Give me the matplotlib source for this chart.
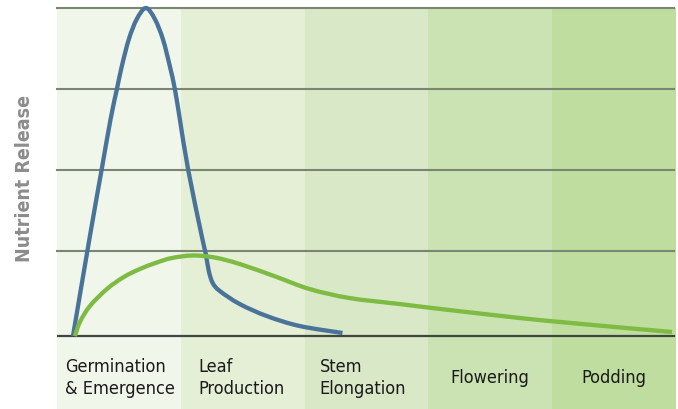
import numpy as np
import matplotlib
matplotlib.use("Agg")
import matplotlib.pyplot as plt
from matplotlib.path import Path
from matplotlib.patches import PathPatch

## Data (x in growth-stage units, y in relative release units)
stages = ["Germination\n& Emergence", "Leaf\nProduction", "Stem\nElongation", "Flowering", "Podding"]
band_colors = ["#f1f6ea", "#e4efd6", "#d9e8c6", "#cbe3b3", "#bfdd9f"]

blue_x = [0.129, 0.266, 0.360, 0.433, 0.484, 0.524, 0.581, 0.645, 0.718, 0.790, 0.855, 0.911,
          0.952, 0.992, 1.060, 1.169, 1.202, 1.226, 1.258, 1.315, 1.476, 1.694, 1.960, 2.306]
blue_y = [0.0, 1.220, 2.024, 2.646, 3.012, 3.293, 3.622, 3.866, 4.0, 3.866, 3.622, 3.293,
          3.012, 2.646, 2.024, 1.220, 1.0, 0.793, 0.646, 0.549, 0.390, 0.244, 0.122, 0.037]

green_x = [0.145, 0.185, 0.266, 0.403, 0.540, 0.669, 0.806, 0.927, 1.097, 1.274, 1.476, 1.774,
           2.040, 2.363, 2.766, 3.306, 3.976, 4.968]
green_y = [0.0, 0.171, 0.366, 0.573, 0.720, 0.817, 0.896, 0.951, 0.982, 0.957, 0.878, 0.720,
           0.573, 0.463, 0.390, 0.293, 0.183, 0.049]

grid_levels = [1.037, 2.024, 3.012, 4.0]


def smooth_path(xs, ys, ax):
    # Catmull-Rom through the points, drawn as cubic Bezier segments in display space
    pts = ax.transData.transform(np.column_stack([xs, ys]))
    p = np.vstack([pts[0], pts, pts[-1]])
    verts = [p[1]]
    codes = [Path.MOVETO]
    for i in range(1, len(p) - 2):
        c1 = p[i] + (p[i + 1] - p[i - 1]) / 6.0
        c2 = p[i + 1] - (p[i + 2] - p[i]) / 6.0
        verts += [c1, c2, p[i + 1]]
        codes += [Path.CURVE4] * 3
    verts = ax.transData.inverted().transform(np.array(verts))
    return Path(verts, codes)


fig = plt.figure(figsize=(6.78, 4.10), dpi=100)
ax = fig.add_axes([57/678, 0, 619/678, 401/410])
ax.set_xlim(0, 5)
ax.set_ylim(-0.890, 4.0)
ax.axis("off")

# stage bands
for i, c in enumerate(band_colors):
    ax.axvspan(i, i + 1, color=c, lw=0, zorder=0)

# grid lines and baseline
for g in grid_levels:
    ax.plot([0, 4.985], [g, g], color="#7b8672", lw=1.5, zorder=1, clip_on=False)
ax.plot([0, 4.985], [0, 0], color="#3f4540", lw=1.6, zorder=1)

# curves
for xs, ys, col, z in [(blue_x, blue_y, "#4a7399", 3), (green_x, green_y, "#7dbb42", 4)]:
    patch = PathPatch(smooth_path(xs, ys, ax), facecolor="none", edgecolor=col, lw=3.1,
                      joinstyle="round", capstyle="butt", zorder=z, clip_on=False)
    ax.add_patch(patch)

# stage labels
label_x = [0.065, 1.14, 2.12, 3.5, 4.5]
for i, s in enumerate(stages):
    ha = "left" if "\n" in s else "center"
    ax.text(label_x[i], -0.50, s, ha=ha, va="center", fontsize=13, fontstretch="condensed",
            family="DejaVu Sans", color="#1a1a1a", linespacing=1.3)

fig.text(25/678, 1 - 179/410, "Nutrient Release", rotation=90, ha="center", va="center",
         fontsize=14, family="DejaVu Sans", fontstretch="condensed", color="#8c8c8c",
         fontweight="bold")

fig.savefig("out.png", dpi=100)
